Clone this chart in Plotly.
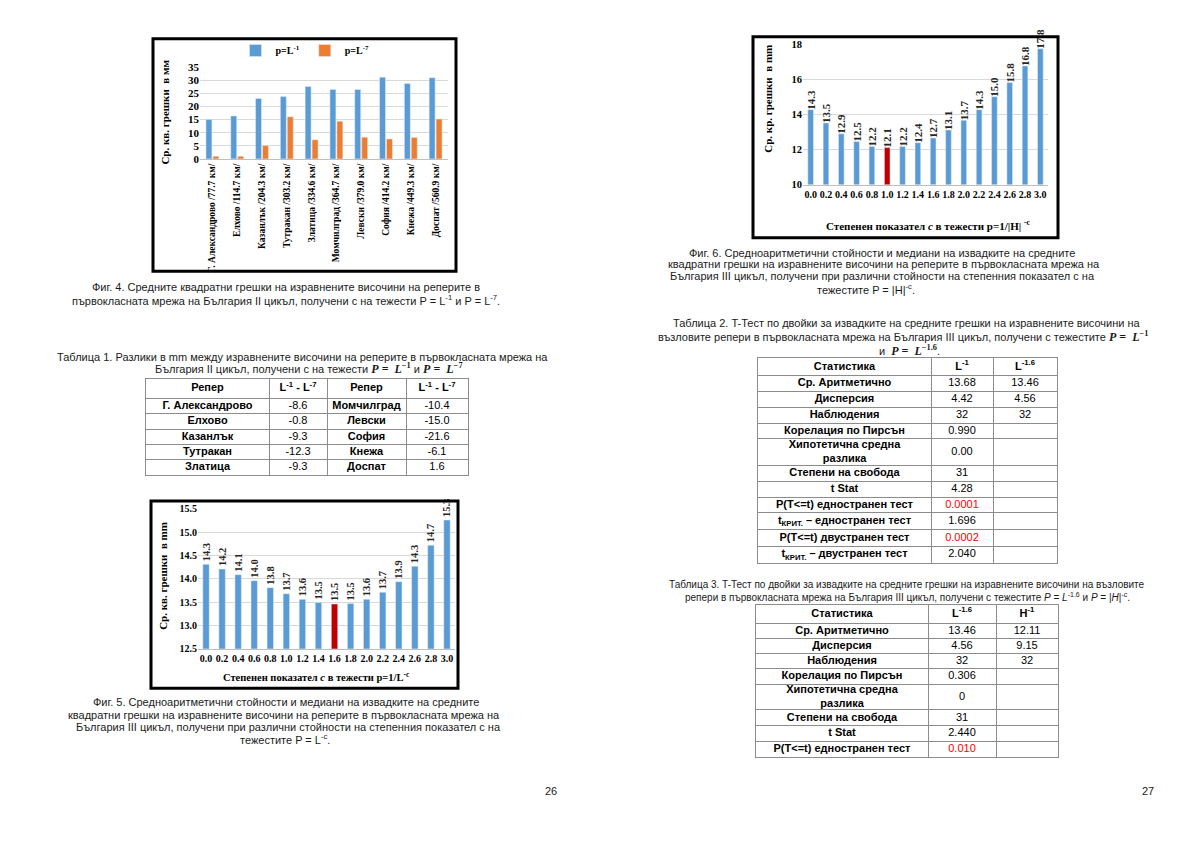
import numpy as np
import plotly.graph_objects as go

# page body adds an 8px margin; the figure is sized to fill the rest of the window
OFF = 8
W, H = 1200 - OFF, 849 - OFF

# ---------------- data ----------------
# Fig. 4
fig4_stations = ["Г. Александрово /77.7 км/", "Елхово /114.7 км/", "Казанлък /204.3 км/",
                 "Тутракан /303.2 км/", "Златица /334.6 км/", "Момчилград /364.7 км/",
                 "Левски /379.0 км/", "София /414.2 км/", "Кнежа /449.3 км/", "Доспат /560.9 км/"]
fig4_L1 = [15.0, 16.4, 23.1, 23.8, 27.6, 26.5, 26.5, 31.2, 28.8, 31.0]
fig4_L7 = [1.0, 1.0, 5.1, 16.1, 7.3, 14.4, 8.3, 7.6, 8.2, 15.2]
fig4_names = ["p=L<sup>-1</sup>", "p=L<sup>-7</sup>"]

# Fig. 5 and Fig. 6
c_labels = ["0.0", "0.2", "0.4", "0.6", "0.8", "1.0", "1.2", "1.4",
            "1.6", "1.8", "2.0", "2.2", "2.4", "2.6", "2.8", "3.0"]
fig5_means = [14.31, 14.21, 14.09, 13.96, 13.81, 13.68, 13.56, 13.49,
              13.46, 13.47, 13.56, 13.71, 13.94, 14.27, 14.72, 15.26]
fig5_best = "1.6"
fig6_means = [14.28, 13.52, 12.90, 12.46, 12.18, 12.11, 12.17, 12.39,
              12.66, 13.12, 13.68, 14.28, 15.02, 15.83, 16.78, 17.76]
fig6_best = "1.0"

# Table 1
t1_header = ["Репер", "L<sup>-1</sup> - L<sup>-7</sup>", "Репер", "L<sup>-1</sup> - L<sup>-7</sup>"]
t1_names_a = ["Г. Александрово", "Елхово", "Казанлък", "Тутракан", "Златица"]
t1_diff_a = [-8.6, -0.8, -9.3, -12.3, -9.3]
t1_names_b = ["Момчилград", "Левски", "София", "Кнежа", "Доспат"]
t1_diff_b = [-10.4, -15.0, -21.6, -6.1, 1.6]

# Table 2
t2_header = ["Статистика", "L<sup>-1</sup>", "L<sup>-1.6</sup>"]
t2_stats = ["Ср. Аритметично", "Дисперсия", "Наблюдения", "Корелация по Пирсън",
            "Хипотетична средна<br>разлика", "Степени на свобода", "t Stat",
            "P(T&lt;=t) едностранен тест", "t<sub>КРИТ.</sub> – едностранен тест",
            "P(T&lt;=t) двустранен тест", "t<sub>КРИТ.</sub> – двустранен тест"]
t2_col1 = ["13.68", "4.42", "32", "0.990", "0.00", "31", "4.28", "0.0001", "1.696", "0.0002", "2.040"]
t2_col2 = ["13.46", "4.56", "32", "", "", "", "", "", "", "", ""]
t2_red = [False, False, False, False, False, False, False, True, False, True, False]

# Table 3
t3_header = ["Статистика", "L<sup>-1.6</sup>", "H<sup>-1</sup>"]
t3_stats = ["Ср. Аритметично", "Дисперсия", "Наблюдения", "Корелация по Пирсън",
            "Хипотетична средна<br>разлика", "Степени на свобода", "t Stat",
            "P(T&lt;=t) едностранен тест"]
t3_col1 = ["13.46", "4.56", "32", "0.306", "0", "31", "2.440", "0.010"]
t3_col2 = ["12.11", "9.15", "32", "", "", "", "", ""]
t3_red = [False, False, False, False, False, False, False, True]

# ---------------- styles ----------------
BLUE, ORANGE, RED = "#5B9BD5", "#ED7D31", "#C00000"
SERIF, SANS = "Liberation Serif", "Liberation Sans"
GRID = "#D9D9D9"
TBL_LINE = "#8C8C8C"


def px_x(x):
    return (x - OFF) / W


def px_y(y):
    return 1 - (y - OFF) / H


fig = go.Figure()

# ---------------- Fig. 4 ----------------
fig.add_trace(go.Bar(x=fig4_stations, y=fig4_L1, name=fig4_names[0], marker_color=BLUE,
                     width=0.24, offset=-0.26, xaxis="x", yaxis="y", legend="legend"))
fig.add_trace(go.Bar(x=fig4_stations, y=fig4_L7, name=fig4_names[1], marker_color=ORANGE,
                     width=0.24, offset=0.02, xaxis="x", yaxis="y", legend="legend"))

# ---------------- Fig. 6 ----------------
fig.add_trace(go.Bar(x=c_labels, y=fig6_means, width=0.37,
                     marker_color=[RED if c == fig6_best else BLUE for c in c_labels],
                     texttemplate="%{y:.1f}", textposition="outside", textangle=-90,
                     constraintext="none", cliponaxis=False,
                     textfont=dict(family=SERIF, size=11, color="#262626", weight="bold"),
                     xaxis="x2", yaxis="y2", showlegend=False))

# ---------------- Fig. 5 ----------------
fig.add_trace(go.Bar(x=c_labels, y=fig5_means, width=0.4,
                     marker_color=[RED if c == fig5_best else BLUE for c in c_labels],
                     texttemplate="%{y:.1f}", textposition="outside", textangle=-90,
                     constraintext="none", cliponaxis=False,
                     textfont=dict(family=SERIF, size=10.5, color="#262626", weight="bold"),
                     xaxis="x3", yaxis="y3", showlegend=False))


def tfont(size):
    return dict(family=SERIF, size=size, color="#000000", weight="bold")


layout_axes = {}
layout_axes["xaxis"] = dict(domain=[px_x(200), px_x(448)], anchor="y", type="category",
                            tickangle=-90, tickfont=tfont(9.5),
                            showgrid=False, showline=True, linecolor="#BFBFBF", ticks="", fixedrange=True)
layout_axes["yaxis"] = dict(domain=[px_y(155), px_y(62)], anchor="x", range=[0, 35], dtick=5,
                            gridcolor=GRID, tickfont=tfont(11), zeroline=False, showline=False,
                            ticks="", fixedrange=True)
layout_axes["xaxis2"] = dict(domain=[px_x(803), px_x(1048)], anchor="y2", type="category",
                             tickangle=0, tickfont=tfont(10), showgrid=False, showline=True,
                             linecolor="#BFBFBF", ticks="", fixedrange=True)
layout_axes["yaxis2"] = dict(domain=[px_y(181), px_y(39)], anchor="x2", range=[10, 18], dtick=2,
                             gridcolor=GRID, tickfont=tfont(10.5), zeroline=False, ticks="", fixedrange=True)
layout_axes["xaxis3"] = dict(domain=[px_x(198), px_x(455)], anchor="y3", type="category",
                             tickangle=0, tickfont=tfont(10), showgrid=False, showline=True,
                             linecolor="#BFBFBF", ticks="", fixedrange=True)
layout_axes["yaxis3"] = dict(domain=[px_y(652), px_y(510)], anchor="x3", range=[12.5, 15.5], dtick=0.5,
                             tickformat=".1f", gridcolor=GRID, tickfont=tfont(10), zeroline=False,
                             ticks="", fixedrange=True)


# ---------------- tables ----------------
def add_table(n, x0, y0, col_w, row_h, columns, bold_cols, red_cols, size=11):
    xs, ys = "x%d" % n, "y%d" % n
    cw = np.array(col_w, float)
    rh = np.array(row_h, float)
    xb = np.concatenate([[0], np.cumsum(cw)])
    yb = np.concatenate([[0], np.cumsum(rh)])
    xc = (xb[:-1] + xb[1:]) / 2
    yc = (yb[:-1] + yb[1:]) / 2
    for j, col in enumerate(columns):
        idx = [i for i, t in enumerate(col) if t]
        texts = ["<b>%s</b>" % col[i] if (i == 0 or bold_cols[j]) else col[i] for i in idx]
        colors = ["#FF0000" if red_cols[j][i] else "#000000" for i in idx]
        fig.add_trace(go.Scatter(x=[xc[j]] * len(idx), y=[yc[i] for i in idx], mode="text",
                                 text=texts, textposition="middle center",
                                 textfont=dict(family=SANS, size=size, color=colors),
                                 xaxis=xs, yaxis=ys, hoverinfo="skip", showlegend=False,
                                 cliponaxis=False))
    common = dict(showgrid=True, gridcolor=TBL_LINE, gridwidth=1, showline=True, mirror=True,
                  linecolor=TBL_LINE, linewidth=1, zeroline=False, showticklabels=False,
                  ticks="", fixedrange=True, tickmode="array")
    layout_axes["xaxis%d" % n] = dict(domain=[px_x(x0), px_x(x0 + xb[-1])], anchor=ys,
                                      range=[0, xb[-1]], tickvals=list(xb), **common)
    layout_axes["yaxis%d" % n] = dict(domain=[px_y(y0 + yb[-1]), px_y(y0)], anchor=xs,
                                      range=[yb[-1], 0], tickvals=list(yb), **common)


fmt = lambda v: "%.1f" % v
no_red = lambda k: [False] * k

t1_cols = [[t1_header[0]] + t1_names_a, [t1_header[1]] + [fmt(v) for v in t1_diff_a],
           [t1_header[2]] + t1_names_b, [t1_header[3]] + [fmt(v) for v in t1_diff_b]]
add_table(4, 146, 378, [123, 58, 79, 62], [20, 15.6, 15.6, 15.6, 15.6, 15.6], t1_cols,
          [True, False, True, False], [no_red(6)] * 4)

t2_cols = [[t2_header[0]] + t2_stats, [t2_header[1]] + t2_col1, [t2_header[2]] + t2_col2]
add_table(5, 758, 357, [173, 62, 64], [18, 16, 16, 16, 16, 27, 16, 16, 16, 17, 17, 17], t2_cols,
          [True, False, False], [no_red(12), [False] + t2_red, no_red(12)])

t3_cols = [[t3_header[0]] + t3_stats, [t3_header[1]] + t3_col1, [t3_header[2]] + t3_col2]
add_table(6, 756, 608, [172, 68, 62], [18, 16, 15, 15, 16, 26, 16, 16, 16], t3_cols,
          [True, False, False], [no_red(9), [False] + t3_red, no_red(9)])

# ---------------- text (captions, titles) ----------------
annotations = []


def note(txt, cx, cy, size=11, family=SANS, color="#1a1a1a", angle=0, weight="normal"):
    annotations.append(dict(text=txt, x=px_x(cx), y=px_y(cy), xref="paper", yref="paper",
                            xanchor="center", yanchor="middle", showarrow=False, textangle=angle,
                            font=dict(family=family, size=size, color=color, weight=weight)))


def math(s):
    return "<span style='font-family:Liberation Serif;font-size:12px'><b>%s</b></span>" % s


# axis titles
note("Ср. кв. грешки  в мм", 165, 108, size=11, family=SERIF, color="#000", angle=-90, weight="bold")
note("Ср. кр. грешки  в mm", 768, 94, size=11, family=SERIF, color="#000", angle=-90, weight="bold")
note("Степенен показател <i>c</i> в тежести p=1/|H| <sup>-c</sup>", 928, 222, size=11,
     family=SERIF, color="#000", weight="bold")
note("Ср. кв. грешки  в mm", 163, 578, size=11, family=SERIF, color="#000", angle=-90, weight="bold")
note("Степенен показател <i>c</i> в тежести p=1/L<sup>-c</sup>", 316, 680, size=10.5,
     family=SERIF, color="#000", weight="bold")

# captions - left page
note("Фиг. 4. Средните квадратни грешки на изравнените височини на реперите в", 286, 285)
note("първокласната мрежа на България II цикъл, получени с на тежести P = L<sup>-1</sup> и P = L<sup>-7</sup>.", 286, 298)
note("Таблица 1. Разлики в mm между изравнените височини на реперите в първокласната мрежа на", 302, 356)
note("България II цикъл, получени с на тежести " + math("<i>P</i> =  <i>L</i><sup>−1</sup>") +
     " и " + math("<i>P</i> =  <i>L</i><sup>−7</sup>"), 309, 368)
note("Фиг. 5. Средноаритметични стойности и медиани на извадките на средните", 286, 706)
note("квадратни грешки на изравнените височини на реперите в първокласната мрежа на", 284, 719)
note("България III цикъл, получени при различни стойности на степенния показател с на", 288, 731)
note("тежестите P = L<sup>-c</sup>.", 285, 743)
note("26", 551, 796)

# captions - right page
note("Фиг. 6. Средноаритметични стойности и медиани на извадките на средните", 882, 250)
note("квадратни грешки на изравнените височини на реперите в първокласната мрежа на", 884, 262)
note("България III цикъл, получени при различни стойности на степенния показател с на", 882, 274)
note("тежестите P = |H|<sup>-c</sup>.", 866, 287)
note("Таблица 2. T-Тест по двойки за извадките на средните грешки на изравнените височини на", 907, 321)
note("възловите репери в първокласната мрежа на България III цикъл, получени с тежестите " +
     math("<i>P</i> =  <i>L</i><sup>−1</sup>"), 903, 335)
note("и  " + math("<i>P</i> =  <i>L</i><sup>−1.6</sup>") + ".", 909, 349)
note("Таблица 3. T-Тест по двойки за извадките на средните грешки на изравнените височини на възловите",
     907, 587, size=10)
note("репери в първокласната мрежа на България III цикъл, получени с тежестите <i>P</i> = <i>L</i><sup>-1.6</sup>"
     " и <i>P</i> = |<i>H</i>|<sup>-c</sup>.", 907, 599, size=10)
note("27", 1148, 796)

# chart frames
shapes = []
for (x0, y0, x1, y1) in [(153, 33, 456, 269), (753, 31, 1058, 235), (151, 502, 458, 692)]:
    shapes.append(dict(type="rect", xref="paper", yref="paper", x0=px_x(x0), x1=px_x(x1),
                       y0=px_y(y1), y1=px_y(y0), line=dict(color="#000000", width=3),
                       fillcolor="rgba(0,0,0,0)", layer="above"))

fig.update_layout(
    width=W, height=H, autosize=False,
    margin=dict(l=0, r=0, t=0, b=0),
    paper_bgcolor="white", plot_bgcolor="rgba(0,0,0,0)",
    barmode="overlay",
    legend=dict(orientation="h", x=px_x(305), xanchor="center", y=px_y(45), yanchor="middle",
                font=dict(family=SERIF, size=10, color="#000", weight="bold"),
                bgcolor="rgba(0,0,0,0)", itemwidth=30, itemclick=False, itemdoubleclick=False),
    annotations=annotations,
    shapes=shapes,
    **layout_axes,
)

fig.write_html("out.html", config={"displayModeBar": False})
